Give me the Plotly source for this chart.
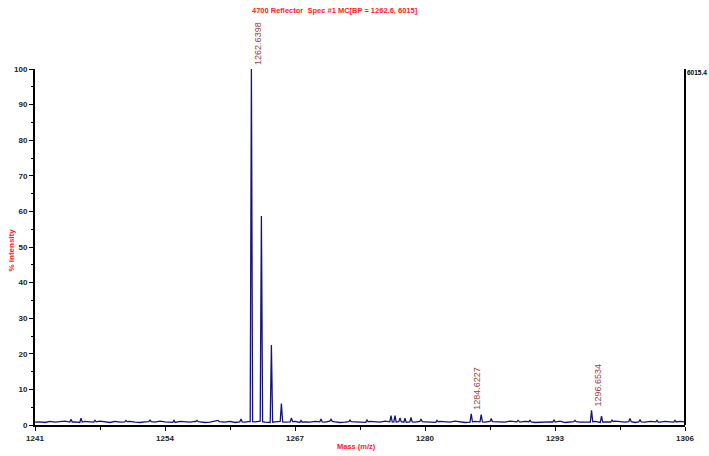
import plotly.graph_objects as go

# ---------------- data ----------------
title_text = "4700 Reflector  Spec #1 MC[BP = 1262.6, 6015]"
x_title = "Mass (m/z)"
y_title = "% Intensity"
max_counts_label = "6015.4"

x_tick_vals = [1241, 1254, 1267, 1280, 1293, 1306]
y_tick_vals = [0, 10, 20, 30, 40, 50, 60, 70, 80, 90, 100]

# baseline noise level (% intensity), every 0.5 m/z starting at 1241
baseline_start = 1241.0
baseline_step = 0.5
baseline_vals = [
    0.8, 0.9, 0.7, 1.0, 0.8, 0.9, 1.1, 0.8, 0.9, 0.7,
    1.0, 0.9, 0.8, 1.1, 0.9, 0.7, 1.0, 0.8, 0.9, 1.0,
    0.8, 0.7, 0.9, 1.0, 0.8, 1.1, 0.9, 0.8, 0.7, 1.0,
    0.9, 0.8, 1.0, 0.9, 0.7, 0.8, 1.1, 0.9, 0.8, 1.0,
    0.7, 0.9, 0.8, 1.0, 0.9, 1.1, 0.8, 0.7, 0.9, 1.0,
    0.8, 0.9, 1.0, 0.7, 0.9, 0.8, 1.0, 0.9, 0.8, 1.1,
    0.9, 0.7, 0.8, 1.0, 0.9, 0.8, 0.7, 1.0, 0.9, 0.8,
    1.1, 0.9, 0.8, 1.0, 0.7, 0.9, 0.8, 1.0, 0.9, 0.8,
    0.7, 1.0, 0.9, 0.8, 1.1, 0.9, 0.7, 0.8, 1.0, 0.9,
    0.8, 1.0, 0.9, 0.7, 0.8, 1.1, 0.9, 0.8, 1.0, 0.9,
    0.7, 0.8, 1.0, 0.9, 0.8, 1.1, 0.7, 0.9, 1.0, 0.8,
    0.9, 0.8, 1.0, 0.7, 0.9, 0.8, 1.1, 0.9, 0.8, 1.0,
    0.7, 0.9, 0.8, 1.0, 0.9, 0.8, 1.0, 0.9, 0.8, 1.0, 0.9,
]

# peak centroids (m/z) and heights (% intensity)
peak_mz = [
    1244.6, 1245.6, 1247.0, 1250.1, 1252.5, 1254.9, 1257.2, 1259.3, 1261.6,
    1262.6398, 1263.64, 1264.64, 1265.64, 1266.64, 1267.6, 1269.6, 1270.6,
    1272.5, 1274.2, 1276.6, 1277.0, 1277.5, 1278.0, 1278.6, 1279.6, 1281.2,
    1284.6227, 1285.62, 1286.62, 1289.3, 1290.5, 1292.9, 1295.0,
    1296.6534, 1297.65, 1298.7, 1300.5, 1301.5, 1303.2, 1305.0,
]
peak_int = [
    1.6, 1.9, 1.3, 1.3, 1.4, 1.3, 1.3, 1.3, 1.7,
    100.0, 58.7, 22.5, 6.0, 2.0, 1.3, 1.7, 1.6,
    1.4, 1.4, 2.6, 2.6, 2.0, 1.9, 2.1, 1.7, 1.3,
    3.1, 2.9, 1.8, 1.3, 1.3, 1.4, 1.3,
    4.1, 2.5, 1.4, 1.8, 1.5, 1.3, 1.3,
]

labeled_mz = [1262.6398, 1284.6227, 1296.6534]
labeled_int = [100.0, 3.1, 4.1]
labeled_text = ["1262.6398", "1284.6227", "1296.6534"]

# ---------------- build profile ----------------
PEAK_HALF_WIDTH = 0.12
base_x = [baseline_start + i * baseline_step for i in range(len(baseline_vals))]


def base_at(m):
    i = int((m - baseline_start) / baseline_step)
    i = max(0, min(i, len(baseline_vals) - 2))
    f = (m - base_x[i]) / baseline_step
    return baseline_vals[i] * (1 - f) + baseline_vals[i + 1] * f


pts = []
for bx, by in zip(base_x, baseline_vals):
    if all(abs(bx - pm) > PEAK_HALF_WIDTH for pm in peak_mz):
        pts.append((bx, by))
for pm, ph in zip(peak_mz, peak_int):
    pts.append((pm - PEAK_HALF_WIDTH, base_at(pm - PEAK_HALF_WIDTH)))
    pts.append((pm, ph))
    pts.append((pm + PEAK_HALF_WIDTH, base_at(pm + PEAK_HALF_WIDTH)))
pts.sort()
xs = [p[0] for p in pts]
ys = [p[1] for p in pts]

# ---------------- figure ----------------
FONT = "Liberation Sans Narrow, Arial Narrow, Liberation Sans, Arial, sans-serif"
RED = "#ff2020"
LABEL_RED = "#a0403c"
LINE = "#14147e"

fig = go.Figure()
fig.add_trace(go.Scatter(x=xs, y=ys, mode="lines",
                         line=dict(color=LINE, width=1.3),
                         hoverinfo="skip", showlegend=False))

annotations = []
for m, h, t in zip(labeled_mz, labeled_int, labeled_text):
    annotations.append(dict(x=m, y=h, xref="x", yref="y", text=t, textangle=-90,
                            showarrow=False, xanchor="left", yanchor="bottom",
                            xshift=-1, yshift=2,
                            font=dict(family=FONT, size=9, color=LABEL_RED)))

annotations.append(dict(x=0.462, y=1, xref="paper", yref="paper", text=title_text,
                        showarrow=False, xanchor="center", yanchor="middle", yshift=59,
                        font=dict(family=FONT, size=7.5, color=RED, weight="bold")))
annotations.append(dict(x=0.495, y=0, xref="paper", yref="paper", text=x_title,
                        showarrow=False, xanchor="center", yanchor="middle", yshift=-21,
                        font=dict(family=FONT, size=7.5, color=RED, weight="bold")))
annotations.append(dict(x=0, y=0.49, xref="paper", yref="paper", text=y_title,
                        textangle=-90, showarrow=False, xanchor="center", yanchor="middle",
                        xshift=-23,
                        font=dict(family=FONT, size=8, color=RED, weight="bold")))
annotations.append(dict(x=1, y=1, xref="paper", yref="paper", text=max_counts_label,
                        showarrow=False, xanchor="left", yanchor="middle", xshift=0, yshift=-3,
                        font=dict(family=FONT, size=6.5, color="black", weight="bold")))

fig.add_shape(type="line", xref="paper", yref="paper", x0=1, x1=1, y0=0, y1=1,
              line=dict(color="black", width=2))

fig.update_layout(
    width=709, height=456,
    margin=dict(l=35, r=24, t=69, b=31),
    paper_bgcolor="white", plot_bgcolor="white",
    showlegend=False,
    annotations=annotations,
    font=dict(family=FONT, size=8, color="#222222"),
    xaxis=dict(range=[1241, 1306], tickvals=x_tick_vals, ticktext=[str(v) for v in x_tick_vals],
               showline=True, linecolor="black", linewidth=2, ticks="outside",
               ticklen=4, tickwidth=1, tickcolor="black",
               minor=dict(ticks="outside", ticklen=3, dtick=6.5, tick0=1241, tickcolor="black"),
               showgrid=False, zeroline=False,
               tickfont=dict(family=FONT, size=8, color="#222222", weight="bold")),
    yaxis=dict(range=[0, 100], tickvals=y_tick_vals,
               showline=True, linecolor="black", linewidth=2, ticks="outside",
               ticklen=4, tickwidth=1, tickcolor="black",
               minor=dict(ticks="outside", ticklen=2, dtick=5, tick0=0, tickcolor="black"),
               showgrid=False, zeroline=False,
               tickfont=dict(family=FONT, size=8, color="#222222", weight="bold")),
)

fig.write_html("out.html", config={"displayModeBar": False},
               post_script="document.body.style.margin='0';document.body.style.overflow='hidden';")
